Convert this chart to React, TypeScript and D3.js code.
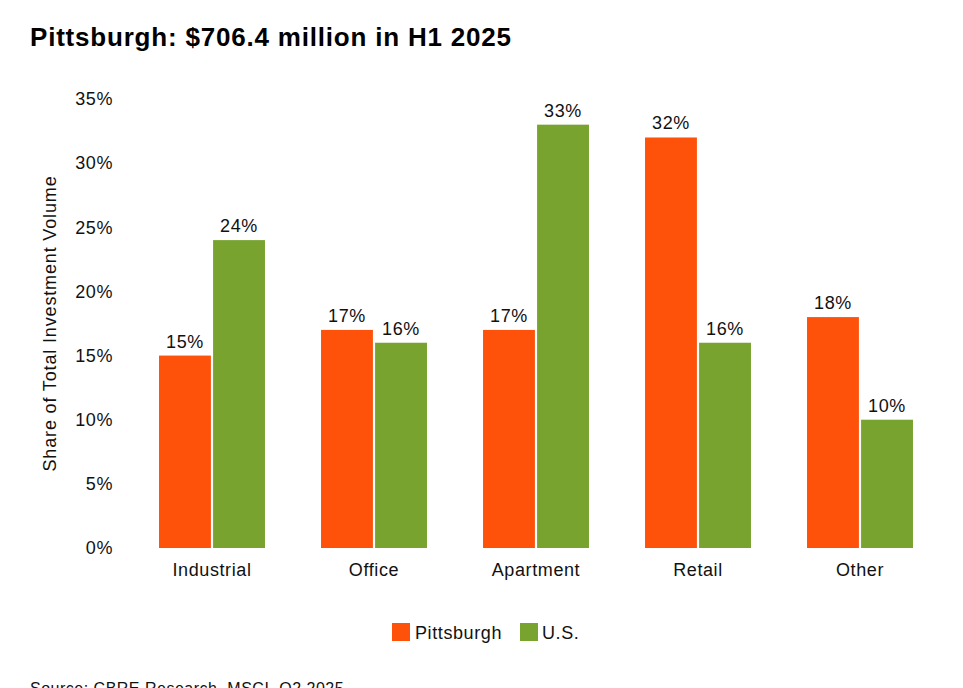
import React from "react";
import * as d3 from "d3";

const categories = ["Industrial", "Office", "Apartment", "Retail", "Other"];
const seriesNames = ["Pittsburgh", "U.S."];
const pittsburgh = [15, 17, 17, 32, 18];
const us = [24, 16, 33, 16, 10];
const yTicks = [0, 5, 10, 15, 20, 25, 30, 35];
const colors = ["#FE520A", "#78A32F"];

const W = 963;
const H = 688;
const FONT = "'Liberation Sans', Arial, Helvetica, sans-serif";

export default function App() {
  const x = d3.scaleBand<string>().domain(categories).range([131, 941]).paddingInner(0.346).paddingOuter(0.173);
  const xs = d3.scaleBand<string>().domain(seriesNames).range([0, x.bandwidth()]).paddingInner(0.04);
  const y = d3.scaleLinear().domain([0, 35]).range([548, 99]);
  const series = [pittsburgh, us];
  const ls = 0.6;

  return (
    <svg width={W} height={H} style={{ position: "absolute", left: 0, top: 0, background: "#fff" }} fontFamily={FONT}>
      <rect width={W} height={H} fill="#fff" />
      <text x={30} y={46} fontSize={26} fontWeight="bold" letterSpacing={0.8} fill="#000">Pittsburgh: $706.4 million in H1 2025</text>
      {yTicks.map((t) => (
        <text key={t} x={113} y={y(t)} dy="0.35em" textAnchor="end" fontSize={18} letterSpacing={ls} fill="#111">{t}%</text>
      ))}
      <text transform={`translate(56,${y(17.5)}) rotate(-90)`} textAnchor="middle" fontSize={18} letterSpacing={0.85} fill="#111">Share of Total Investment Volume</text>
      {categories.map((c, i) => (
        <g key={c} transform={`translate(${x(c)},0)`}>
          {series.map((s, j) => (
            <g key={j}>
              <rect x={xs(seriesNames[j])} y={y(s[i])} width={xs.bandwidth()} height={y(0) - y(s[i])} fill={colors[j]} />
              <text x={(xs(seriesNames[j]) as number) + xs.bandwidth() / 2} y={y(s[i]) - 8} textAnchor="middle" fontSize={18} letterSpacing={ls} fill="#111">{s[i]}%</text>
            </g>
          ))}
          <text x={x.bandwidth() / 2} y={576} textAnchor="middle" fontSize={18} letterSpacing={ls} fill="#111">{c}</text>
        </g>
      ))}
      <g transform="translate(392,623)">
        <rect x={0} y={0} width={18} height={18} fill={colors[0]} />
        <text x={23} y={16} fontSize={18} letterSpacing={ls} fill="#111">{seriesNames[0]}</text>
        <rect x={128} y={0} width={18} height={18} fill={colors[1]} />
        <text x={150} y={16} fontSize={18} letterSpacing={ls} fill="#111">{seriesNames[1]}</text>
      </g>
      <text x={30} y={694} fontSize={16} letterSpacing={0.5} fill="#111">Source: CBRE Research, MSCI, Q2 2025</text>
    </svg>
  );
}
